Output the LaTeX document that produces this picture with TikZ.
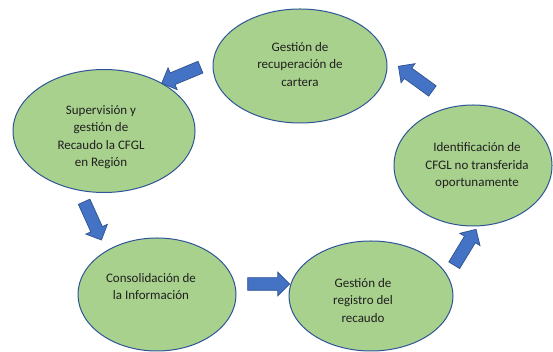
\documentclass[tikz,border=0pt]{standalone}
\usepackage{fontspec}
\setmainfont{Carlito}
\usetikzlibrary{shapes.geometric,shapes.arrows}
\definecolor{ellfill}{HTML}{A9D18E}
\definecolor{elldraw}{HTML}{2F5597}
\definecolor{arrfill}{HTML}{4472C4}
\definecolor{arrdraw}{HTML}{2F528F}
\tikzset{
  stage/.style={ellipse, draw=elldraw, fill=ellfill, line width=1pt, inner sep=0pt},
  stagetext/.style={align=center, text=black!88, font=\fontsize{13}{17.5}\selectfont, inner sep=0pt},
  flowarrow/.style={single arrow, draw=arrdraw, fill=arrfill, line width=0.7pt,
    inner xsep=0pt, inner ysep=6pt, minimum height=42pt,
    single arrow head extend=5.5pt, single arrow head indent=0pt, single arrow tip angle=90}
}
\begin{document}
\begin{tikzpicture}[x=1pt,y=1pt]
\useasboundingbox[fill=white] (0,0) rectangle (553,352);
% stages
\node[stage, minimum width=174pt, minimum height=114pt] (e1) at (300,286) {};
\node[stage, minimum width=182pt, minimum height=123pt] (e2) at (104,221) {};
\node[stage, minimum width=158pt, minimum height=113pt] (e3) at (157,57.5) {};
\node[stage, minimum width=164pt, minimum height=110pt] (e4) at (371,56) {};
\node[stage, minimum width=158pt, minimum height=121pt] (e5) at (473,186.5) {};
% texts
\node[stagetext] (t1) at (300,287.5) {Gestión de\\recuperación de\\cartera};
\node[stagetext] (t2) at (101,215) {Supervisión y\\gestión de\\Recaudo la CFGL\\en Región};
\node[stagetext] (t3) at (151,65.5) {Consolidación de\\la Información};
\node[stagetext] (t4) at (363,51.5) {Gestión de\\registro del\\recaudo};
\node[stagetext] (t5) at (477,186) {Identificación de\\CFGL no transferida\\oportunamente};
% block arrows
\node[flowarrow, rotate=202.6] (a1) at (184,278) {};
\node[flowarrow, rotate=144] (a2) at (418,271.5) {};
\node[flowarrow, rotate=-65.6] (a3) at (91.5,134) {};
\node[flowarrow, rotate=0] (a4) at (265.5,68) {};
\node[flowarrow, rotate=58.7] (a5) at (463.5,102) {};
\end{tikzpicture}
\end{document}
